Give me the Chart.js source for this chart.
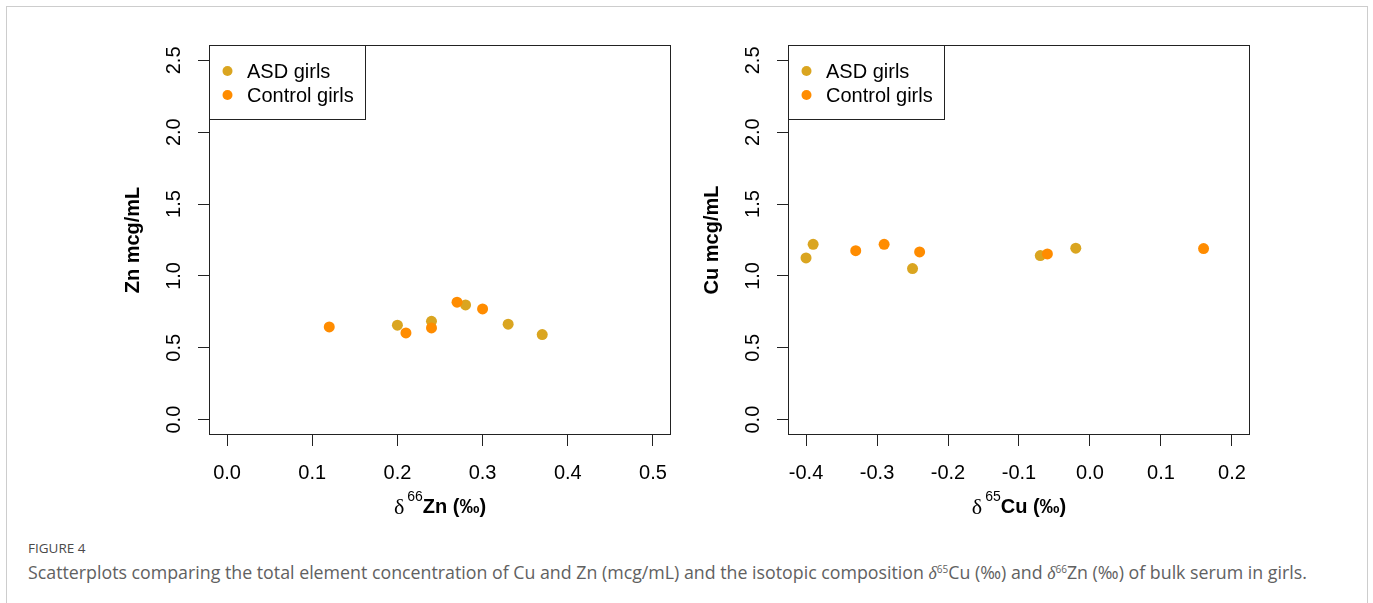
<!DOCTYPE html>
<html>
<head>
<meta charset="utf-8">
<script src="https://cdn.jsdelivr.net/npm/chart.js@4.4.1/dist/chart.umd.min.js"></script>
<style>
  body { margin: 0; background: #fff; }
  #page { position: relative; width: 1373px; height: 603px; overflow: hidden; }
  #frame { position: absolute; left: 6px; top: 6px; width: 1360px; height: 720px; border: 1px solid #cdcdcd; }
  canvas { position: absolute; top: 30px; }
  #zn { left: 100px; }
  #cu { left: 679px; }
  .fig { position: absolute; left: 28px; top: 539px; font: 13.5px "Open Sans", Lato, sans-serif; line-height: 18px; color: #4a4a4a; }
  .cap { position: absolute; left: 28px; top: 560px; font: 17.8px "Open Sans", Lato, sans-serif; line-height: 24px; color: #616161; white-space: nowrap; }
  .cap sup { font-size: 10px; vertical-align: 6px; line-height: 0; }
  .cap i { font-family: "Liberation Serif", serif; }
</style>
</head>
<body>
<div id="page">
  <div id="frame"></div>
  <canvas id="zn" width="590" height="490"></canvas>
  <canvas id="cu" width="590" height="490"></canvas>
  <div class="fig">FIGURE 4</div>
  <div class="cap">Scatterplots comparing the total element concentration of Cu and Zn (mcg/mL) and the isotopic composition <i>δ</i><sup>65</sup>Cu (‰) and <i>δ</i><sup>66</sup>Zn (‰) of bulk serum in girls.</div>
</div>
<script>
// values
const groups = ["ASD girls", "Control girls"];
const groupColors = ["#DAA520", "#FF8C00"];

const znAsdX  = [0.20, 0.24, 0.28, 0.33, 0.37];
const znAsdY  = [0.657, 0.684, 0.798, 0.664, 0.592];
const znCtrlX = [0.12, 0.21, 0.24, 0.27, 0.30];
const znCtrlY = [0.645, 0.603, 0.638, 0.817, 0.770];

const cuAsdX  = [-0.40, -0.39, -0.25, -0.07, -0.02];
const cuAsdY  = [1.125, 1.220, 1.051, 1.142, 1.193];
const cuCtrlX = [-0.33, -0.29, -0.24, -0.06, 0.16];
const cuCtrlY = [1.176, 1.220, 1.167, 1.153, 1.190];

const znTicks = [0.0, 0.1, 0.2, 0.3, 0.4, 0.5];
const cuTicks = [-0.4, -0.3, -0.2, -0.1, 0.0, 0.1, 0.2];
const concTicks = [0.0, 0.5, 1.0, 1.5, 2.0, 2.5];

Chart.defaults.font.family = '"Liberation Sans", Arial, sans-serif';
Chart.defaults.font.size = 20;
Chart.defaults.color = "#000";

const toPoints = (xs, ys) => xs.map((x, i) => ({ x: x, y: ys[i] }));

// R style box, legend and the mixed-font x axis title
const framePlugin = {
    id: "frame",
    afterDraw(chart, args, opts) {
        const { ctx, chartArea: a } = chart;
        ctx.save();
        ctx.strokeStyle = "#222";
        ctx.lineWidth = 1;
        ctx.strokeRect(a.left - 0.5, a.top - 0.5, a.right - a.left + 1, a.bottom - a.top + 1);

        // legend
        ctx.font = '20px "Liberation Sans"';
        const sets = chart.data.datasets;
        const textW = Math.max(...sets.map(d => ctx.measureText(d.label).width));
        ctx.strokeRect(a.left - 0.5, a.top - 0.5, Math.round(37 + textW + 12), 74);
        ctx.textBaseline = "middle";
        sets.forEach((d, i) => {
            const y = a.top + 25 + i * 24;
            ctx.beginPath();
            ctx.arc(a.left + 17.5, y, 5, 0, Math.PI * 2);
            ctx.fillStyle = d.backgroundColor;
            ctx.fill();
            ctx.fillStyle = "#000";
            ctx.fillText(d.label, a.left + 37, y + 1);
        });

        // x title: delta, superscript mass number, bold element
        const main = opts.elem + " (‰)";
        ctx.textBaseline = "alphabetic";
        ctx.font = '22px "Liberation Serif"';
        const wD = ctx.measureText("δ").width;
        ctx.font = '14px "Liberation Sans"';
        const wS = ctx.measureText(opts.iso).width;
        ctx.font = 'bold 20px "Liberation Sans"';
        const wM = ctx.measureText(main).width;
        let x = (a.left + a.right) / 2 - (wD + 3 + wS + wM) / 2;
        const base = a.bottom + 79;
        ctx.font = '22px "Liberation Serif"';
        ctx.fillText("δ", x, base + 1);
        x += wD + 3;
        ctx.font = '14px "Liberation Sans"';
        ctx.fillText(opts.iso, x, base - 12);
        x += wS;
        ctx.font = 'bold 20px "Liberation Sans"';
        ctx.fillText(main, x, base);
        ctx.restore();
    }
};

function makePanel(id, asd, ctrl, xMin, xMax, xTicks, yTitle, iso, elem) {
    return new Chart(document.getElementById(id), {
        type: "scatter",
        data: {
            datasets: [
                { label: groups[0], data: asd, backgroundColor: groupColors[0], order: 1 },
                { label: groups[1], data: ctrl, backgroundColor: groupColors[1], order: 0 }
            ]
        },
        options: {
            responsive: false,
            animation: false,
            devicePixelRatio: 1,
            layout: { padding: { top: 16, right: 20, left: 0, bottom: 0 } },
            elements: { point: { radius: 5.5, borderWidth: 0, hoverRadius: 5.5 } },
            plugins: {
                legend: { display: false },
                tooltip: { enabled: false },
                frame: { iso: iso, elem: elem }
            },
            scales: {
                x: {
                    type: "linear",
                    min: xMin,
                    max: xMax,
                    afterBuildTicks: s => { s.ticks = xTicks.map(v => ({ value: v })); },
                    afterFit: s => { s.height = 86; s.paddingLeft = 0; s.paddingRight = 0; },
                    ticks: { callback: v => v.toFixed(1), padding: 15, maxRotation: 0, autoSkip: false },
                    grid: { drawOnChartArea: false, tickLength: 12, color: "#222" },
                    border: { display: false }
                },
                y: {
                    type: "linear",
                    min: -0.1,
                    max: 2.6,
                    afterBuildTicks: s => { s.ticks = concTicks.map(v => ({ value: v })); },
                    afterFit: s => { s.width = 110; s.paddingTop = 0; s.paddingBottom = 0; },
                    ticks: { callback: v => v.toFixed(1), padding: 10, minRotation: 90, maxRotation: 90, crossAlign: "center", autoSkip: false },
                    grid: { drawOnChartArea: false, tickLength: 12, color: "#222" },
                    border: { display: false },
                    title: { display: true, text: yTitle, font: { weight: "bold", size: 20 }, padding: { top: 21, bottom: 0 } }
                }
            }
        },
        plugins: [framePlugin]
    });
}

makePanel("zn", toPoints(znAsdX, znAsdY), toPoints(znCtrlX, znCtrlY), -0.02, 0.52, znTicks, "Zn mcg/mL", "66", "Zn");
makePanel("cu", toPoints(cuAsdX, cuAsdY), toPoints(cuCtrlX, cuCtrlY), -0.424, 0.224, cuTicks, "Cu mcg/mL", "65", "Cu");
</script>
</body>
</html>
